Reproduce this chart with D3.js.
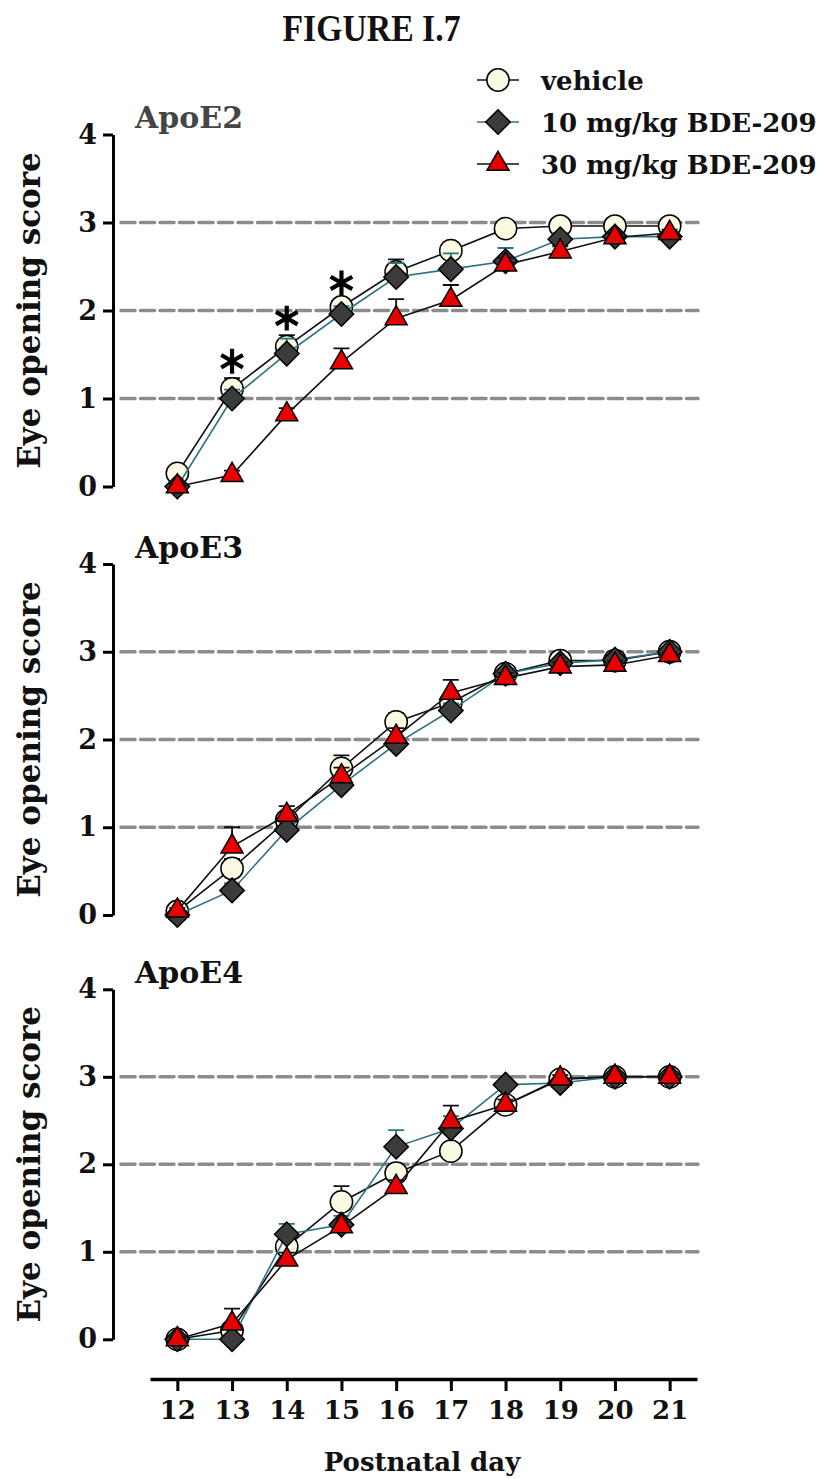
<!DOCTYPE html>
<html>
<head>
<meta charset="utf-8">
<script src="https://cdn.jsdelivr.net/npm/d3@7/dist/d3.min.js"></script>
<style>
  html, body { margin: 0; padding: 0; background: #fff; }
  svg { display: block; }
</style>
</head>
<body>
<svg id="chart" width="831" height="1479"></svg>
<script>
// Postnatal days and axis ticks
const days = [12, 13, 14, 15, 16, 17, 18, 19, 20, 21];
const yTicks = [0, 1, 2, 3, 4];
const refLines = [1, 2, 3];
const seriesNames = ["vehicle", "10 mg/kg BDE-209", "30 mg/kg BDE-209"];
const genotypes = ["ApoE2", "ApoE3", "ApoE4"];

// ApoE2 means and SEM
const apoE2Vehicle = [0.15, 1.11, 1.59, 2.04, 2.44, 2.68, 2.93, 2.96, 2.96, 2.96];
const apoE2VehicleSem = [0.04, 0.12, 0.13, 0.08, 0.14, 0.09, 0.04, 0.04, 0.04, 0.04];
const apoE2Dose10 = [0.00, 1.00, 1.51, 1.96, 2.38, 2.47, 2.56, 2.81, 2.84, 2.84];
const apoE2Dose10Sem = [0.03, 0.10, 0.17, 0.09, 0.16, 0.18, 0.15, 0.07, 0.05, 0.05];
const apoE2Dose30 = [0.00, 0.13, 0.82, 1.41, 1.91, 2.12, 2.52, 2.67, 2.83, 2.88];
const apoE2Dose30Sem = [0.03, 0.05, 0.07, 0.16, 0.22, 0.17, 0.08, 0.06, 0.05, 0.04];
const apoE2Significant = [13, 14, 15];

// ApoE3 means and SEM
const apoE3Vehicle = [0.04, 0.53, 1.08, 1.67, 2.20, 2.42, 2.75, 2.90, 2.90, 3.00];
const apoE3VehicleSem = [0.03, 0.11, 0.08, 0.15, 0.10, 0.08, 0.05, 0.05, 0.04, 0.03];
const apoE3Dose10 = [0.00, 0.28, 0.97, 1.48, 1.95, 2.33, 2.75, 2.87, 2.91, 3.00];
const apoE3Dose10Sem = [0.03, 0.08, 0.08, 0.08, 0.08, 0.08, 0.05, 0.04, 0.04, 0.03];
const apoE3Dose30 = [0.05, 0.78, 1.14, 1.58, 2.03, 2.53, 2.70, 2.83, 2.85, 2.96];
const apoE3Dose30Sem = [0.03, 0.22, 0.10, 0.10, 0.10, 0.15, 0.06, 0.05, 0.05, 0.03];
const apoE3Significant = [];

// ApoE4 means and SEM
const apoE4Vehicle = [0.00, 0.10, 1.06, 1.57, 1.90, 2.15, 2.68, 2.97, 3.00, 3.00];
const apoE4VehicleSem = [0.03, 0.08, 0.08, 0.18, 0.10, 0.08, 0.05, 0.03, 0.02, 0.02];
const apoE4Dose10 = [0.00, 0.00, 1.20, 1.31, 2.20, 2.41, 2.91, 2.93, 3.00, 3.00];
const apoE4Dose10Sem = [0.02, 0.02, 0.12, 0.10, 0.19, 0.14, 0.05, 0.04, 0.02, 0.02];
const apoE4Dose30 = [0.00, 0.18, 0.91, 1.29, 1.74, 2.49, 2.68, 2.98, 3.00, 3.00];
const apoE4Dose30Sem = [0.02, 0.17, 0.08, 0.08, 0.08, 0.18, 0.06, 0.04, 0.02, 0.02];
const apoE4Significant = [];

// ---- drawing setup ----
const svg = d3.select("#chart");
const serif = "'DejaVu Serif', serif";
const timesLike = "'Liberation Serif', 'Times New Roman', serif";

const styles = [
  { symbol: "circle",   fill: "#fbfbe3", line: "#111111", err: "#111111" },
  { symbol: "diamond",  fill: "#3b3b3b", line: "#2b7383", err: "#2b7383" },
  { symbol: "triangle", fill: "#e60000", line: "#111111", err: "#111111" }
];

const panels = [
  { name: genotypes[0], titleFill: "#454545", top: 134.5, bottom: 486.5,
    means: [apoE2Vehicle, apoE2Dose10, apoE2Dose30],
    sems: [apoE2VehicleSem, apoE2Dose10Sem, apoE2Dose30Sem], sig: apoE2Significant },
  { name: genotypes[1], titleFill: "#111111", top: 564, bottom: 915,
    means: [apoE3Vehicle, apoE3Dose10, apoE3Dose30],
    sems: [apoE3VehicleSem, apoE3Dose10Sem, apoE3Dose30Sem], sig: apoE3Significant },
  { name: genotypes[2], titleFill: "#111111", top: 989.3, bottom: 1339.3,
    means: [apoE4Vehicle, apoE4Dose10, apoE4Dose30],
    sems: [apoE4VehicleSem, apoE4Dose10Sem, apoE4Dose30Sem], sig: apoE4Significant }
];

const axisX = 113;
const gridEnd = 698;
const x = d3.scaleLinear().domain([11.5, 21.5]).range([150, 697]);

function markerPath(kind) {
  if (kind === "circle") return d3.symbol(d3.symbolCircle, 390)();
  if (kind === "diamond") return d3.symbol(d3.symbolSquare, 300)();
  return d3.symbol(d3.symbolTriangle, 210)();
}
function markerTransform(kind, px, py) {
  return kind === "diamond" ? `translate(${px},${py}) rotate(45)` : `translate(${px},${py})`;
}

// Title
svg.append("text")
  .attr("x", 371.5).attr("y", 41)
  .attr("text-anchor", "middle")
  .attr("font-family", timesLike).attr("font-weight", "bold")
  .attr("font-size", 37)
  .attr("textLength", 178).attr("lengthAdjust", "spacingAndGlyphs")
  .attr("fill", "#111")
  .text("FIGURE I.7");

// Legend
const legend = svg.append("g");
const legendRows = [80, 122, 164];
seriesNames.forEach((name, i) => {
  const cy = legendRows[i];
  const st = styles[i];
  legend.append("line")
    .attr("x1", 477).attr("x2", 519).attr("y1", cy).attr("y2", cy)
    .attr("stroke", st.line).attr("stroke-width", 1.6);
  legend.append("path")
    .attr("d", markerPath(st.symbol))
    .attr("transform", markerTransform(st.symbol, 498, cy))
    .attr("fill", st.fill).attr("stroke", "#000").attr("stroke-width", 1.5);
  legend.append("text")
    .attr("x", 541).attr("y", cy + 10)
    .attr("font-family", serif).attr("font-weight", "bold")
    .attr("font-size", 26).attr("fill", "#111")
    .text(name);
});

// Panels
panels.forEach((p, pi) => {
  const y = d3.scaleLinear().domain([0, 4]).range([p.bottom, p.top]);
  const g = svg.append("g");

  // dashed reference lines
  g.selectAll("line.ref").data(refLines).join("line")
    .attr("class", "ref")
    .attr("x1", axisX + 8).attr("x2", gridEnd)
    .attr("y1", d => y(d)).attr("y2", d => y(d))
    .attr("stroke", "#8c8c8c").attr("stroke-width", 3.6)
    .attr("stroke-dasharray", "14 5.5")
    .attr("stroke-linecap", "round");

  // y axis
  const yAxis = g.append("g")
    .attr("transform", `translate(${axisX},0)`)
    .call(d3.axisLeft(y).tickValues(yTicks).tickFormat(d3.format("d"))
      .tickSize(10).tickSizeOuter(0).tickPadding(6));
  yAxis.select(".domain").attr("stroke", "#000").attr("stroke-width", 3);
  yAxis.selectAll(".tick line").attr("stroke", "#000").attr("stroke-width", 3);
  yAxis.selectAll(".tick text")
    .attr("font-family", serif).attr("font-weight", "bold")
    .attr("font-size", 27).attr("fill", "#111");

  // y axis title
  const midY = (p.top + p.bottom) / 2;
  g.append("text")
    .attr("transform", `translate(29,${midY}) rotate(-90)`)
    .attr("text-anchor", "middle").attr("dy", "0.36em")
    .attr("font-family", serif).attr("font-weight", "bold")
    .attr("font-size", 31).attr("fill", "#111")
    .text("Eye opening score");

  // panel title
  g.append("text")
    .attr("x", 135).attr("y", p.top - 6.5)
    .attr("font-family", serif).attr("font-weight", "bold")
    .attr("font-size", 30).attr("fill", p.titleFill)
    .text(p.name);

  // series
  p.means.forEach((vals, si) => {
    const st = styles[si];
    const pts = days.map((d, k) => ({ day: d, v: vals[k], e: p.sems[si][k] }));
    const sg = g.append("g");
    sg.append("path")
      .datum(pts)
      .attr("d", d3.line().x(d => x(d.day)).y(d => y(d.v)))
      .attr("fill", "none").attr("stroke", st.line).attr("stroke-width", 1.6);
    // upper error bars
    sg.selectAll("path.err").data(pts).join("path")
      .attr("class", "err")
      .attr("d", d => {
        const px = x(d.day), y0 = y(d.v), y1 = y(d.v + d.e);
        return `M${px},${y0}V${y1}M${px - 8},${y1}H${px + 8}`;
      })
      .attr("fill", "none").attr("stroke", st.err).attr("stroke-width", 1.8);
    sg.selectAll("path.mk").data(pts).join("path")
      .attr("class", "mk")
      .attr("d", markerPath(st.symbol))
      .attr("transform", d => markerTransform(st.symbol, x(d.day), y(d.v)))
      .attr("fill", st.fill).attr("stroke", "#000").attr("stroke-width", 1.5);
  });

  // significance asterisks
  p.sig.forEach(day => {
    const k = days.indexOf(day);
    const top = d3.max(p.means, (vals, si) => vals[k] + p.sems[si][k]);
    g.append("path")
      .attr("d", d3.symbol(d3.symbolAsterisk, 440)())
      .attr("transform", `translate(${x(day)},${y(top) - 17})`)
      .attr("fill", "none").attr("stroke", "#000").attr("stroke-width", 4.2);
  });

  // shared x axis on the bottom panel
  if (pi === panels.length - 1) {
    const xAxis = svg.append("g")
      .attr("transform", "translate(0,1379)")
      .call(d3.axisBottom(x).tickValues(days).tickFormat(d3.format("d"))
        .tickSize(12).tickSizeOuter(0).tickPadding(10));
    xAxis.select(".domain").attr("stroke", "#000").attr("stroke-width", 3.4);
    xAxis.selectAll(".tick line").attr("stroke", "#000").attr("stroke-width", 3);
    xAxis.selectAll(".tick text")
      .attr("font-family", serif).attr("font-weight", "bold")
      .attr("font-size", 26).attr("fill", "#111");
    svg.append("text")
      .attr("x", 422).attr("y", 1471)
      .attr("text-anchor", "middle")
      .attr("font-family", serif).attr("font-weight", "bold")
      .attr("font-size", 26).attr("fill", "#111")
      .text("Postnatal day");
  }
});
</script>
</body>
</html>
